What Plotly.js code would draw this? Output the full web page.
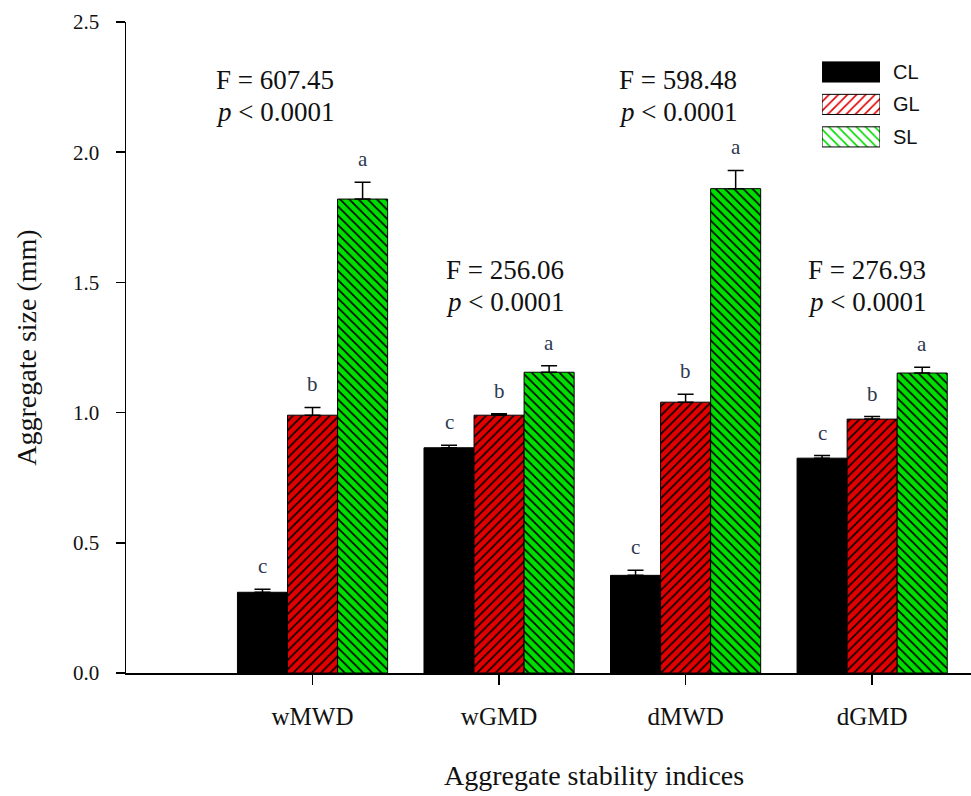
<!DOCTYPE html>
<html>
<head>
<meta charset="utf-8">
<script src="https://cdn.plot.ly/plotly-3.0.1.min.js"></script>
<style>
  html, body { margin: 0; padding: 0; background: #fff; }
  #chart { width: 971px; height: 796px; }
</style>
</head>
<body>
<div id="chart"></div>
<script>
// ---- data ----
const categories = ['wMWD', 'wGMD', 'dMWD', 'dGMD'];
const seriesNames = ['CL', 'GL', 'SL'];

const clValues = [0.31, 0.865, 0.375, 0.825];
const clErrors = [0.012, 0.010, 0.020, 0.010];
const glValues = [0.99, 0.99, 1.04, 0.975];
const glErrors = [0.030, 0.006, 0.030, 0.010];
const slValues = [1.82, 1.155, 1.86, 1.152];
const slErrors = [0.065, 0.025, 0.070, 0.022];

const clLetters = ['c', 'c', 'c', 'c'];
const glLetters = ['b', 'b', 'b', 'b'];
const slLetters = ['a', 'a', 'a', 'a'];

const fValues = ['607.45', '256.06', '598.48', '276.93'];
const pLabel = '<i>p</i> < 0.0001';
const xTitle = 'Aggregate stability indices';
const yTitle = 'Aggregate size (mm)';

// ---- styles ----
const serif = 'Liberation Serif';
const sans = 'Liberation Sans';
const fillColors = ['#000000', '#e00000', '#00dd00'];
const patternShapes = ['', '/', '\\'];
const BARGAP = 0.195;
const barW = (1 - BARGAP) / 3;

const values = [clValues, glValues, slValues];
const errors = [clErrors, glErrors, slErrors];
const letters = [clLetters, glLetters, slLetters];

const traces = seriesNames.map((name, i) => ({
  type: 'bar',
  name: name,
  x: categories,
  y: values[i],
  xaxis: 'x', yaxis: 'y',
  showlegend: false,
  marker: {
    color: fillColors[i],
    line: { color: '#000', width: 1 },
    pattern: {
      shape: patternShapes[i],
      fgcolor: '#000',
      bgcolor: fillColors[i],
      size: 6.5,
      solidity: 0.25
    }
  },
  error_y: {
    type: 'data',
    symmetric: false,
    array: errors[i],
    arrayminus: errors[i].map(() => 0),
    color: '#000',
    thickness: 1.5,
    width: 8
  },
  hoverinfo: 'skip'
}));

// custom legend (bar swatches drawn from the series names)
traces.push({
  type: 'bar',
  orientation: 'h',
  y: seriesNames,
  x: seriesNames.map(() => 1),
  width: 0.62,
  xaxis: 'x2', yaxis: 'y2',
  showlegend: false,
  marker: {
    color: fillColors,
    line: { color: '#000', width: 1 },
    pattern: {
      shape: patternShapes,
      fgcolor: '#000',
      bgcolor: fillColors,
      size: 6.5,
      solidity: 0.25
    }
  },
  hoverinfo: 'skip'
});

// significance letters above the bars
const annotations = [];
seriesNames.forEach((name, i) => {
  categories.forEach((c, j) => {
    annotations.push({
      x: j + (i - 1) * barW,
      y: values[i][j] + errors[i][j],
      xref: 'x', yref: 'y',
      text: letters[i][j],
      showarrow: false,
      yanchor: 'bottom',
      yshift: 9,
      font: { family: serif, size: 21, color: '#2f3850' }
    });
  });
});

// F statistic boxes
const fPosX = [-0.20, 0.03, -0.04, -0.03];
const fPosY = [2.277, 1.549, 2.277, 1.549];
const pPosY = [2.155, 1.426, 2.155, 1.426];
categories.forEach((c, j) => {
  annotations.push({
    x: j + fPosX[j], y: fPosY[j], xref: 'x', yref: 'y',
    text: 'F = ' + fValues[j], showarrow: false,
    xanchor: 'center', yanchor: 'middle',
    font: { family: serif, size: 27, color: '#111' }
  });
  annotations.push({
    x: j + fPosX[j], y: pPosY[j], xref: 'x', yref: 'y',
    text: pLabel, showarrow: false,
    xanchor: 'center', yanchor: 'middle',
    font: { family: serif, size: 27, color: '#111' }
  });
});

// x-axis title (offset to the right, as in the figure)
annotations.push({
  x: (594 - 126) / 845,
  y: -(776 - 673.5) / 651.5,
  xref: 'paper', yref: 'paper',
  xanchor: 'center', yanchor: 'middle',
  text: xTitle, showarrow: false,
  font: { family: serif, size: 28, color: '#111' }
});

const layout = {
  width: 971,
  height: 796,
  margin: { l: 126, r: 0, t: 22, b: 122.5, pad: 0 },
  paper_bgcolor: '#fff',
  plot_bgcolor: '#fff',
  barmode: 'group',
  bargap: BARGAP,
  bargroupgap: 0,
  showlegend: false,
  xaxis: {
    type: 'category',
    categoryorder: 'array',
    categoryarray: categories,
    range: [-1.0, 3.53],
    domain: [0, 1],
    showline: true,
    linecolor: '#000',
    linewidth: 1.5,
    ticks: 'outside',
    ticklen: 10,
    tickwidth: 1.5,
    tickcolor: '#000',
    showgrid: false,
    zeroline: false,
    ticklabelstandoff: 10,
    tickfont: { family: serif, size: 25, color: '#111' },
    fixedrange: true
  },
  yaxis: {
    range: [0, 2.5],
    dtick: 0.5,
    tick0: 0,
    tickformat: '.1f',
    showline: true,
    linecolor: '#000',
    linewidth: 1.5,
    ticks: 'outside',
    ticklen: 9,
    tickwidth: 1.5,
    tickcolor: '#000',
    showgrid: false,
    zeroline: false,
    ticklabelstandoff: 12,
    tickfont: { family: serif, size: 21, color: '#111' },
    title: {
      text: yTitle,
      font: { family: serif, size: 28, color: '#111' },
      standoff: 28
    },
    fixedrange: true
  },
  xaxis2: {
    domain: [0.8237, 0.8923],
    range: [0, 1],
    anchor: 'y2',
    visible: false,
    fixedrange: true
  },
  yaxis2: {
    domain: [0.7986, 0.9482],
    anchor: 'x2',
    type: 'category',
    range: [2.5, -0.5],
    side: 'right',
    showline: false,
    showgrid: false,
    zeroline: false,
    ticks: '',
    ticklabelstandoff: 12,
    tickfont: { family: sans, size: 20, color: '#111' },
    fixedrange: true
  },
  annotations: annotations
};

Plotly.newPlot('chart', traces, layout, { staticPlot: true, displayModeBar: false });
</script>
</body>
</html>
